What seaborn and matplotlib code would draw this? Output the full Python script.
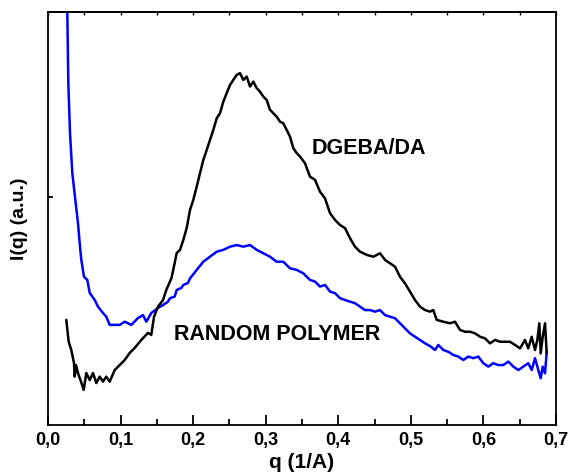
import numpy as np
import pandas as pd
import matplotlib
matplotlib.use("Agg")
import matplotlib.pyplot as plt
import seaborn as sns

# Scattering vector q (1/A) and intensity (a.u.) for the cured DGEBA/DA network
q_dgeba = [0.0252, 0.0285, 0.0321, 0.0358, 0.0368, 0.0386, 0.0413, 0.0455, 0.0492, 0.0528,
           0.0575, 0.0620, 0.0666, 0.0712, 0.0758, 0.0803, 0.0850, 0.0919, 0.0988, 0.1057,
           0.1126, 0.1195, 0.1286, 0.1378, 0.1423, 0.1461, 0.1516, 0.1585, 0.1630, 0.1702,
           0.1746, 0.1773, 0.1819, 0.1864, 0.1911, 0.1957, 0.2002, 0.2049, 0.2095, 0.2140,
           0.2187, 0.2232, 0.2278, 0.2325, 0.2370, 0.2416, 0.2462, 0.2508, 0.2553, 0.2600,
           0.2646, 0.2691, 0.2738, 0.2784, 0.2829, 0.2876, 0.2921, 0.2967, 0.3014, 0.3059,
           0.3105, 0.3151, 0.3197, 0.3242, 0.3289, 0.3335, 0.3380, 0.3427, 0.3473, 0.3541,
           0.3610, 0.3679, 0.3748, 0.3817, 0.3886, 0.3955, 0.4024, 0.4093, 0.4162, 0.4230,
           0.4299, 0.4392, 0.4483, 0.4575, 0.4644, 0.4713, 0.4782, 0.4851, 0.4919, 0.4988,
           0.5057, 0.5126, 0.5195, 0.5264, 0.5309, 0.5356, 0.5447, 0.5540, 0.5608, 0.5677,
           0.5746, 0.5815, 0.5884, 0.5953, 0.6022, 0.6091, 0.6160, 0.6229, 0.6297, 0.6366,
           0.6435, 0.6504, 0.6573, 0.6618, 0.6665, 0.6711, 0.6743, 0.6770, 0.6789, 0.6817,
           0.6849, 0.6872]
i_dgeba = [0.461, 0.365, 0.329, 0.272, 0.212, 0.263, 0.228, 0.190, 0.154, 0.228,
           0.197, 0.228, 0.184, 0.212, 0.190, 0.212, 0.190, 0.241, 0.263, 0.285,
           0.316, 0.338, 0.373, 0.404, 0.395, 0.475, 0.519, 0.548, 0.592, 0.645,
           0.711, 0.754, 0.768, 0.811, 0.864, 0.943, 0.987, 1.045, 1.105, 1.162,
           1.206, 1.250, 1.294, 1.345, 1.367, 1.418, 1.455, 1.491, 1.513, 1.535,
           1.543, 1.513, 1.528, 1.484, 1.506, 1.477, 1.462, 1.440, 1.425, 1.382,
           1.367, 1.352, 1.330, 1.323, 1.294, 1.264, 1.214, 1.192, 1.177, 1.148,
           1.089, 1.075, 1.023, 0.994, 0.929, 0.899, 0.877, 0.863, 0.819, 0.782,
           0.760, 0.746, 0.738, 0.753, 0.724, 0.709, 0.694, 0.650, 0.621, 0.585,
           0.548, 0.519, 0.504, 0.497, 0.504, 0.461, 0.453, 0.446, 0.453, 0.417,
           0.409, 0.409, 0.402, 0.387, 0.380, 0.358, 0.373, 0.365, 0.365, 0.365,
           0.351, 0.336, 0.373, 0.336, 0.387, 0.329, 0.373, 0.446, 0.314, 0.387,
           0.446, 0.314]

# Same quantities for the random polymer
q_random = [0.0259, 0.0266, 0.0280, 0.0303, 0.0335, 0.0372, 0.0413, 0.0445, 0.0459, 0.0496,
            0.0542, 0.0575, 0.0644, 0.0689, 0.0758, 0.0803, 0.0850, 0.0919, 0.0988, 0.1057,
            0.1148, 0.1240, 0.1309, 0.1355, 0.1423, 0.1516, 0.1585, 0.1654, 0.1681, 0.1746,
            0.1773, 0.1837, 0.1864, 0.1929, 0.1957, 0.2049, 0.2140, 0.2232, 0.2325, 0.2416,
            0.2508, 0.2600, 0.2691, 0.2784, 0.2876, 0.2967, 0.3059, 0.3151, 0.3242, 0.3335,
            0.3427, 0.3518, 0.3610, 0.3679, 0.3748, 0.3817, 0.3886, 0.3955, 0.4024, 0.4093,
            0.4162, 0.4230, 0.4299, 0.4368, 0.4437, 0.4506, 0.4575, 0.4644, 0.4713, 0.4782,
            0.4851, 0.4919, 0.4988, 0.5057, 0.5126, 0.5195, 0.5264, 0.5333, 0.5378, 0.5447,
            0.5516, 0.5585, 0.5654, 0.5723, 0.5792, 0.5861, 0.5930, 0.5998, 0.6067, 0.6136,
            0.6205, 0.6274, 0.6343, 0.6412, 0.6481, 0.6550, 0.6618, 0.6665, 0.6711, 0.6756,
            0.6789, 0.6817, 0.6849, 0.6872]
i_random = [1.864, 1.808, 1.500, 1.281, 1.105, 1.000, 0.886, 0.768, 0.724, 0.650,
            0.636, 0.579, 0.548, 0.519, 0.491, 0.475, 0.439, 0.439, 0.439, 0.453,
            0.439, 0.469, 0.482, 0.453, 0.491, 0.513, 0.526, 0.541, 0.556, 0.563,
            0.592, 0.601, 0.614, 0.623, 0.643, 0.680, 0.716, 0.738, 0.760, 0.768,
            0.782, 0.789, 0.782, 0.789, 0.768, 0.753, 0.738, 0.716, 0.716, 0.687,
            0.680, 0.665, 0.636, 0.629, 0.607, 0.614, 0.585, 0.578, 0.556, 0.548,
            0.541, 0.534, 0.519, 0.504, 0.504, 0.497, 0.504, 0.482, 0.475, 0.468,
            0.446, 0.424, 0.402, 0.387, 0.373, 0.358, 0.346, 0.329, 0.351, 0.329,
            0.321, 0.307, 0.300, 0.285, 0.300, 0.293, 0.300, 0.271, 0.256, 0.271,
            0.263, 0.263, 0.278, 0.256, 0.241, 0.256, 0.271, 0.241, 0.293, 0.241,
            0.205, 0.256, 0.227, 0.321]

x_ticks = [0.0, 0.1, 0.2, 0.3, 0.4, 0.5, 0.6, 0.7]
x_tick_labels = ["0,0", "0,1", "0,2", "0,3", "0,4", "0,5", "0,6", "0,7"]

sns.set_theme(style="ticks")
plt.rcParams["font.family"] = ["Liberation Sans", "DejaVu Sans"]
plt.rcParams["font.weight"] = "bold"
plt.rcParams["text.color"] = "black"
plt.rcParams["axes.labelcolor"] = "black"
plt.rcParams["xtick.color"] = "black"
plt.rcParams["ytick.color"] = "black"
plt.rcParams["axes.edgecolor"] = "black"

df = pd.concat([
    pd.DataFrame({"q": q_random, "I": i_random, "sample": "RANDOM POLYMER"}),
    pd.DataFrame({"q": q_dgeba, "I": i_dgeba, "sample": "DGEBA/DA"}),
])

fig = plt.figure(figsize=(5.7, 4.74), dpi=100)
ax = fig.add_axes([48 / 570, 49 / 474, 508 / 570, 413 / 474])

sns.lineplot(data=df, x="q", y="I", hue="sample", estimator=None, sort=False,
             palette={"RANDOM POLYMER": "#0000ff", "DGEBA/DA": "black"},
             linewidth=1.8, legend=False, ax=ax)

ax.set_xlim(0, 0.7)
ax.set_ylim(0, 1.811)

ax.set_xticks(x_ticks)
ax.set_xticklabels(x_tick_labels, fontsize=13, fontweight="bold", color="black")
ax.set_xticks(np.arange(0.05, 0.7, 0.1), minor=True)
ax.set_yticks([1.0])
ax.set_yticklabels([])

ax.tick_params(axis="x", which="major", direction="in", length=7, width=1.3,
               pad=5, colors="black")
ax.tick_params(axis="x", which="minor", direction="in", length=4, width=1.3,
               colors="black")
ax.tick_params(axis="y", which="major", direction="in", length=3.5, width=1.3,
               colors="black")

# Small inward ticks along the top edge
top = ax.secondary_xaxis("top")
top.set_xticks(np.arange(0.0, 0.701, 0.05))
top.tick_params(direction="in", length=2, width=1.0, labeltop=False, colors="black")
top.spines["top"].set_linewidth(1.3)
top.spines["top"].set_color("black")

for s in ax.spines.values():
    s.set_linewidth(1.3)
    s.set_color("black")

ax.set_xlabel("q (1/A)", fontsize=15, fontweight="bold", color="black")
ax.set_ylabel("I(q) (a.u.)", fontsize=14, fontweight="bold", color="black")
ax.xaxis.set_label_coords(0.5, -0.068)
ax.yaxis.set_label_coords(-0.04, 0.5)

ax.text(0.4423, 1.211, "DGEBA/DA", fontsize=15.5, fontweight="bold",
        ha="center", va="center", color="black")
ax.text(0.3151, 0.399, "RANDOM POLYMER", fontsize=15.5, fontweight="bold",
        ha="center", va="center", color="black")

fig.savefig("out.png", dpi=100, facecolor="white")
